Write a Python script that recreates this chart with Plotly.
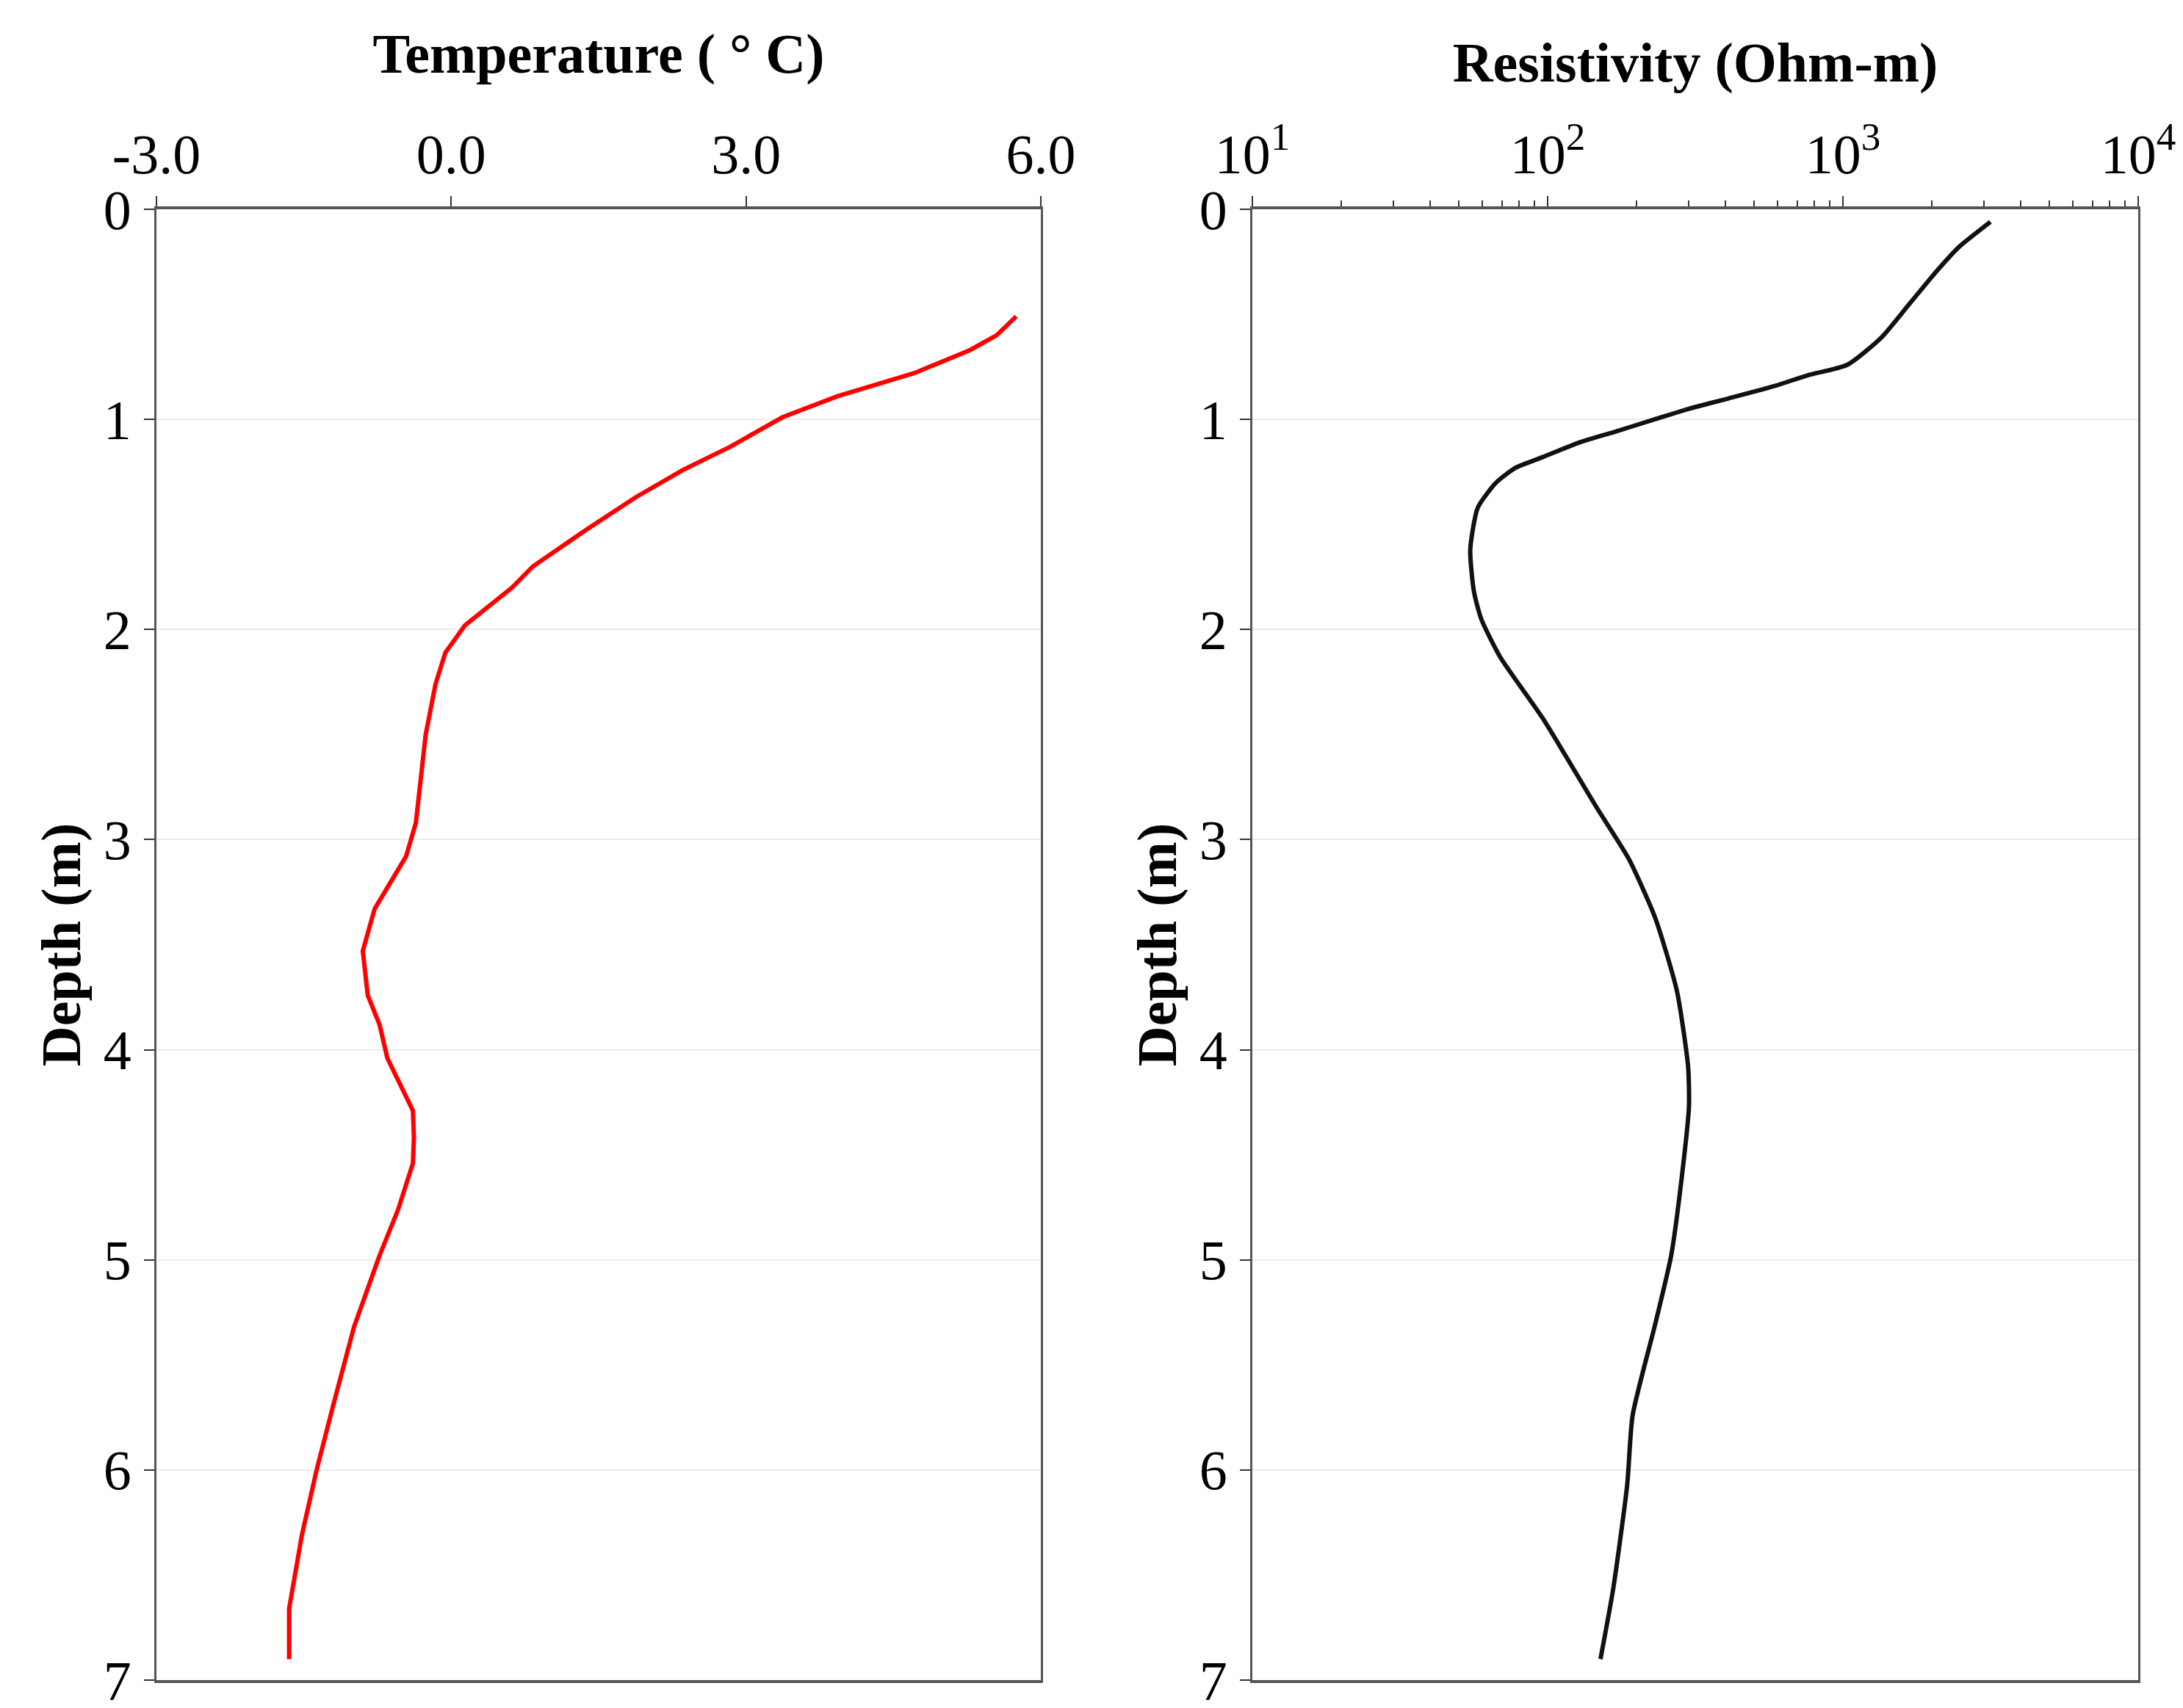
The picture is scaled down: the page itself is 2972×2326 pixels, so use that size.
import plotly.graph_objects as go
from plotly.subplots import make_subplots

# temperature profile
temp_depth = [0.51, 0.60, 0.67, 0.78, 0.89, 0.99, 1.04, 1.13, 1.24, 1.37, 1.52, 1.70, 1.80,
              1.88, 1.98, 2.11, 2.26, 2.50, 2.92, 3.08, 3.33, 3.53, 3.74, 3.88, 4.04, 4.29,
              4.42, 4.54, 4.76, 4.98, 5.32, 5.69, 6.00, 6.31, 6.66, 6.90]
temp_c = [5.75, 5.55, 5.28, 4.71, 3.93, 3.37, 3.18, 2.84, 2.36, 1.88, 1.39, 0.83, 0.62,
          0.40, 0.14, -0.06, -0.16, -0.26, -0.36, -0.46, -0.78, -0.90, -0.85, -0.73, -0.65, -0.39,
          -0.38, -0.39, -0.54, -0.73, -0.99, -1.20, -1.37, -1.52, -1.65, -1.65]

# resistivity profile
res_depth = [0.06, 0.18, 0.29, 0.45, 0.61, 0.74, 0.79, 0.84, 0.90, 0.95, 1.00, 1.06, 1.11,
             1.18, 1.23, 1.30, 1.42, 1.62, 1.82, 1.95, 2.13, 2.42, 2.85, 3.09, 3.37, 3.72,
             4.08, 4.27, 4.60, 4.98, 5.31, 5.74, 6.07, 6.56, 6.90]
res_ohm = [3160, 2470, 2090, 1680, 1350, 1035, 760, 590, 410, 300, 230, 168, 128,
           96, 78, 67, 58, 54.7, 56.3, 59.6, 69, 96, 147, 188, 231, 274,
           299, 301, 285, 262, 231, 194, 186, 167, 151]

temp_ticks = [-3, 0, 3, 6]
temp_labels = ["-3.0", "0.0", "3.0", "6.0"]
res_ticks = [10, 100, 1000, 10000]
res_labels = ["10<sup>1</sup>", "10<sup>2</sup>", "10<sup>3</sup>", "10<sup>4</sup>"]
res_minor = [m * 10 ** e for e in (1, 2, 3) for m in range(2, 10)]
depth_ticks = [0, 1, 2, 3, 4, 5, 6, 7]

W, H = 2972, 2326


def fx(px):
    return px / W


def fy(py):
    return 1 - py / H


FONT = "Liberation Serif, Times New Roman, serif"

fig = make_subplots(rows=1, cols=2)
fig.add_trace(go.Scatter(x=temp_c, y=temp_depth, mode="lines",
                         line=dict(color="#ff0000", width=6)), row=1, col=1)
fig.add_trace(go.Scatter(x=res_ohm, y=res_depth, mode="lines",
                         line=dict(color="#111111", width=6, shape="spline", smoothing=0.6)),
              row=1, col=2)

common_x = dict(side="top", showline=True, linecolor="#555555", linewidth=4, mirror=True,
                ticks="outside", ticklen=14, tickwidth=2, tickcolor="#333333",
                showgrid=False, zeroline=False, automargin=False,
                tickfont=dict(family=FONT, size=76, color="black"),
                ticklabelstandoff=1,
                title_font=dict(family=FONT, size=76, color="black", weight="bold"))
common_y = dict(range=[7, 0], tickvals=depth_ticks, showline=True, linecolor="#555555",
                linewidth=3, mirror=True, ticks="outside", ticklen=14, tickwidth=2,
                tickcolor="#333333", showgrid=True, gridcolor="#ebebeb", gridwidth=2,
                zeroline=False, automargin=False, ticklabeloverflow="allow",
                tickfont=dict(family=FONT, size=76, color="black"),
                ticklabelstandoff=2,
                title_text="Depth (m)",
                title_font=dict(family=FONT, size=76, color="black", weight="bold"),
                title_standoff=7)

fig.update_xaxes(common_x, row=1, col=1)
fig.update_xaxes(range=[-3, 6], tickvals=temp_ticks, ticktext=temp_labels,
                 title_text="Temperature ( ° C)", title_standoff=44,
                 domain=[fx(213), fx(1417)], row=1, col=1)
fig.update_xaxes(common_x, row=1, col=2)
fig.update_xaxes(type="log", range=[1, 4], tickvals=res_ticks, ticktext=res_labels,
                 minor=dict(tickvals=res_minor, ticks="outside", ticklen=8, tickwidth=2,
                            tickcolor="#333333", showgrid=False),
                 title_text="Resistivity (Ohm-m)", title_standoff=21,
                 domain=[fx(1705), fx(2911)], row=1, col=2)
fig.update_yaxes(common_y)
fig.update_yaxes(domain=[fy(2288), fy(285)])

fig.update_layout(width=W, height=H, margin=dict(l=0, r=0, t=0, b=0),
                  plot_bgcolor="white", paper_bgcolor="white", showlegend=False,
                  font=dict(family=FONT, color="black"))
# drop the default page margin so the figure fills the window
fig.write_html("out.html", config={"displayModeBar": False},
               post_script="document.body.style.margin='0';document.body.style.overflow='hidden';")
